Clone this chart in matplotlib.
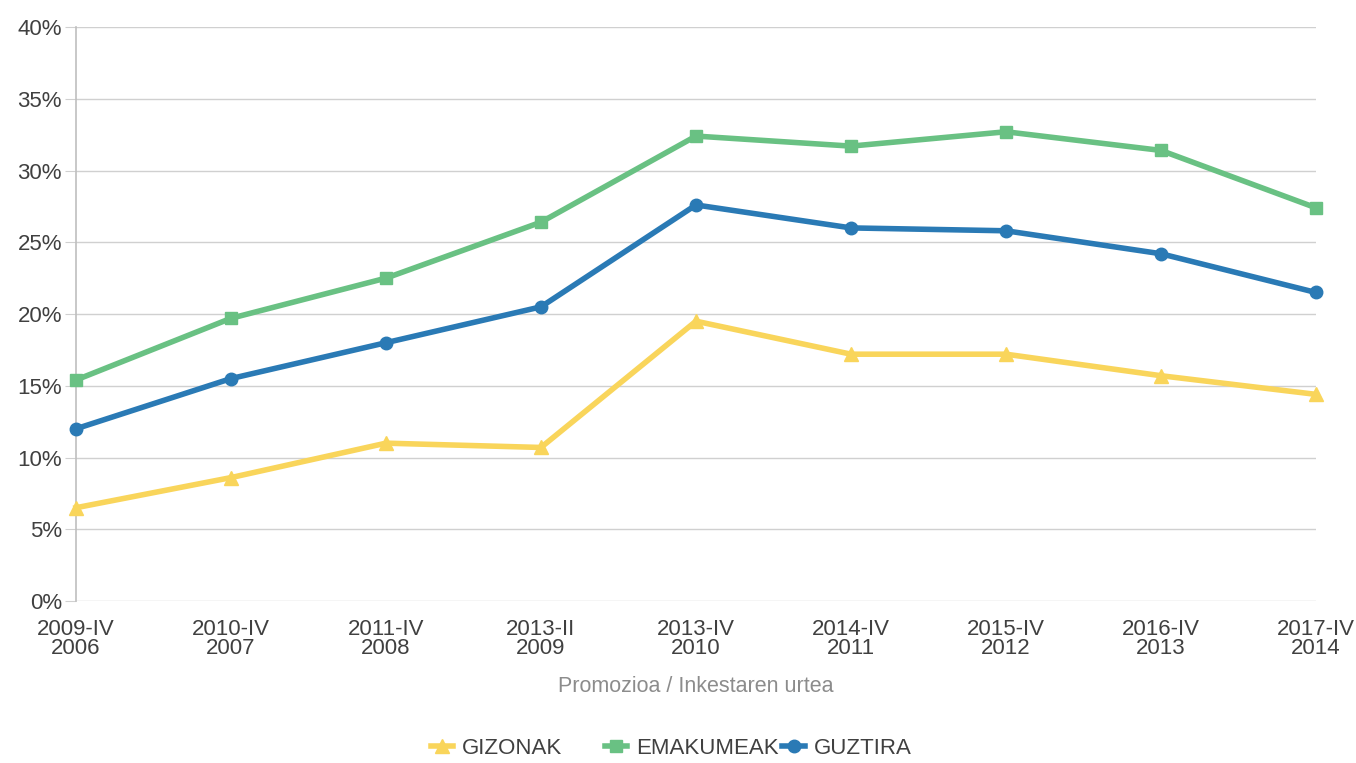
import matplotlib
matplotlib.use('Agg')
import matplotlib.pyplot as plt
from matplotlib.ticker import FuncFormatter

# datuak
kategoriak = ['2009-IV\n2006', '2010-IV\n2007', '2011-IV\n2008', '2013-II\n2009', '2013-IV\n2010',
              '2014-IV\n2011', '2015-IV\n2012', '2016-IV\n2013', '2017-IV\n2014']
gizonak = [6.5, 8.6, 11.0, 10.7, 19.5, 17.2, 17.2, 15.7, 14.4]
emakumeak = [15.4, 19.7, 22.5, 26.4, 32.4, 31.7, 32.7, 31.4, 27.4]
guztira = [12.0, 15.5, 18.0, 20.5, 27.6, 26.0, 25.8, 24.2, 21.5]

plt.rcParams['font.family'] = ['Liberation Sans', 'DejaVu Sans']

fig = plt.figure(figsize=(13.56, 7.63), dpi=100)
ax = fig.add_axes([0.056, 0.2123, 0.9145, 0.7523])

x = list(range(len(kategoriak)))
l1, = ax.plot(x, gizonak, color='#F9D55B', lw=4, marker='^', ms=10, label='GIZONAK', zorder=3, clip_on=False)
l2, = ax.plot(x, emakumeak, color='#69C183', lw=4, marker='s', ms=9, label='EMAKUMEAK', zorder=3, clip_on=False)
l3, = ax.plot(x, guztira, color='#2A7AB5', lw=4, marker='o', ms=9, label='GUZTIRA', zorder=3, clip_on=False)

ax.set_xlim(0, len(kategoriak) - 1)
ax.set_ylim(0, 40)
ax.set_yticks(range(0, 41, 5))
ax.yaxis.set_major_formatter(FuncFormatter(lambda v, p: '%d%%' % v))
ax.set_xticks(x)
ax.set_xticklabels(kategoriak, linespacing=0.9)

ax.grid(axis='y', color='#D0D0D0', lw=1)
ax.set_axisbelow(True)
for s in ['top', 'right', 'bottom']:
    ax.spines[s].set_visible(False)
ax.spines['left'].set_color('#BFBFBF')
ax.spines['left'].set_linewidth(1.2)
ax.tick_params(axis='y', length=8, color='#D0D0D0', labelsize=16, labelcolor='#404040', pad=2)
ax.tick_params(axis='x', length=0, labelsize=16, labelcolor='#404040', pad=13)

ax.set_xlabel('Promozioa / Inkestaren urtea', fontsize=15.5, color='#8C8C8C', labelpad=12)

# legenda, sarrera bakoitza bere lekuan
for h, xpos in [(l1, 0.318), (l2, 0.446), (l3, 0.577)]:
    fig.legend(handles=[h], loc='center left', bbox_to_anchor=(xpos, 0.019), frameon=False,
               fontsize=16, handlelength=1.0, handletextpad=0.4, borderpad=0, borderaxespad=0,
               labelcolor='#404040')

fig.savefig('out.png', dpi=100)
